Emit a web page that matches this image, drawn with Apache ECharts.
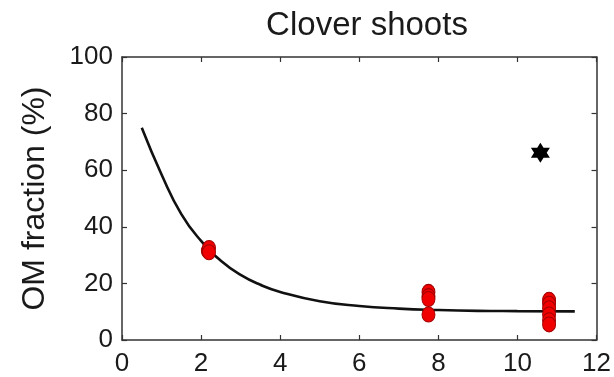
<!DOCTYPE html>
<html>
<head>
<meta charset="utf-8">
<script src="https://cdn.jsdelivr.net/npm/echarts@6/dist/echarts.min.js"></script>
<style>html,body{margin:0;padding:0;background:#fff;}#c{width:614px;height:377px;}</style>
</head>
<body>
<div id="c"></div>
<script>
const titleText = 'Clover shoots';
const yAxisName = 'OM fraction (%)';
const xTicks = [0, 2, 4, 6, 8, 10, 12];
const yTicks = [0, 20, 40, 60, 80, 100];
// measured points (x, OM %)
const dots = [
  [2.17, 31.5], [2.2, 32.5], [2.2, 31.0],
  [7.75, 17.0], [7.75, 15.5], [7.75, 14.5], [7.75, 9.0],
  [10.8, 14.2], [10.8, 12.8], [10.8, 11.2], [10.8, 9.0], [10.8, 7.0], [10.8, 5.5]
];
const starPoint = [[10.58, 66.2]];
// fitted curve
const curve = [
  [0.5, 75], [1, 58.5], [1.5, 44.5], [2, 35], [2.5, 28], [3, 23], [3.5, 19.5],
  [4, 17], [5, 13.7], [6, 12], [7, 11.1], [8, 10.6], [9, 10.3], [10, 10.2], [11.45, 10.1]
];

const font = 'Liberation Sans, Arial, sans-serif';
const txt = '#1a1a1a';
const axisCol = '#333';
const chart = echarts.init(document.getElementById('c'), null, {renderer: 'canvas'});
const baseX = {
  type: 'value', min: xTicks[0], max: xTicks[xTicks.length - 1], interval: 2,
  axisLine: {show: true, onZero: false, lineStyle: {color: axisCol, width: 1.5}},
  axisTick: {show: true, inside: true, length: 5, lineStyle: {color: axisCol, width: 1.2}},
  splitLine: {show: false}
};
const baseY = {
  type: 'value', min: yTicks[0], max: yTicks[yTicks.length - 1], interval: 20,
  axisLine: {show: true, onZero: false, lineStyle: {color: axisCol, width: 1.5}},
  axisTick: {show: true, inside: true, length: 5, lineStyle: {color: axisCol, width: 1.2}},
  splitLine: {show: false}
};
chart.setOption({
  animation: false,
  backgroundColor: '#fff',
  title: {
    text: titleText, left: 362, top: 4, textAlign: 'center',
    textStyle: {fontFamily: font, fontSize: 33, fontWeight: 'normal', color: txt}
  },
  grid: {left: 122, right: 15, top: 57, bottom: 36, containLabel: false},
  xAxis: [
    Object.assign({}, baseX, {
      position: 'bottom',
      axisLabel: {show: true, margin: 11, fontFamily: font, fontSize: 26, color: txt}
    }),
    Object.assign({}, baseX, {position: 'top', axisLabel: {show: false}})
  ],
  yAxis: [
    Object.assign({}, baseY, {
      position: 'left',
      name: yAxisName, nameLocation: 'middle', nameRotate: 90, nameGap: 71,
      nameTextStyle: {fontFamily: font, fontSize: 32, color: txt},
      axisLabel: {show: true, margin: 9, fontFamily: font, fontSize: 26, color: txt}
    }),
    Object.assign({}, baseY, {position: 'right', axisLabel: {show: false}})
  ],
  series: [
    {
      type: 'line', data: curve, smooth: true, showSymbol: false, symbol: 'none',
      lineStyle: {color: '#111', width: 2.6}, z: 2
    },
    {
      type: 'scatter', data: dots, symbol: 'circle', symbolSize: [13, 15],
      itemStyle: {color: '#f00000', borderColor: '#a00000', borderWidth: 1, opacity: 1}, z: 3
    },
    {
      type: 'scatter', data: starPoint,
      symbol: 'path://M0 -10 L-2.887 -5 L-8.66 -5 L-5.77 0 L-8.66 5 L-2.887 5 L0 10 L2.887 5 L8.66 5 L5.77 0 L8.66 -5 L2.887 -5 Z',
      symbolSize: [19, 20],
      itemStyle: {color: '#000', opacity: 1}, z: 4
    }
  ]
});
</script>
</body>
</html>
